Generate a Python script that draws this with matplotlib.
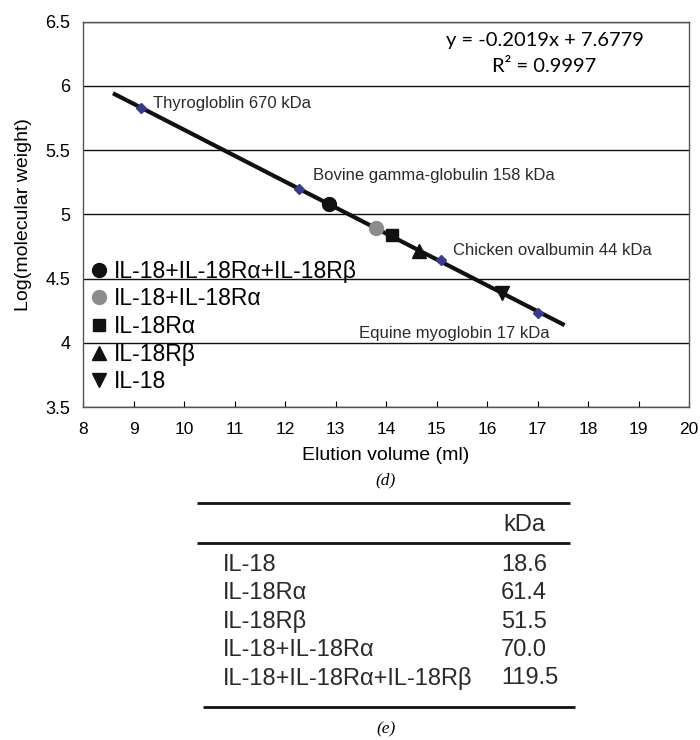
import numpy as np
import matplotlib
matplotlib.use("Agg")
import matplotlib.pyplot as plt

plt.rcParams['font.family'] = ['Liberation Sans', 'DejaVu Sans']

# standards (blue diamonds)
std_x = [9.15, 12.27, 15.08, 17.0]
std_y = [5.826, 5.199, 4.643, 4.230]
std_labels = ["Thyrogloblin 670 kDa", "Bovine gamma-globulin 158 kDa",
              "Chicken ovalbumin 44 kDa", "Equine myoglobin 17 kDa"]
std_label_pos = [(9.39, 5.865), (12.55, 5.305), (15.33, 4.72), (13.47, 4.076)]

# samples
smp_names = ["IL-18+IL-18Rα+IL-18Rβ", "IL-18+IL-18Rα", "IL-18Rα", "IL-18Rβ", "IL-18"]
smp_x = [12.87, 13.80, 14.12, 14.65, 16.30]
smp_y = [5.077, 4.890, 4.840, 4.715, 4.385]
smp_marker = ["o", "o", "s", "^", "v"]
smp_color = ["#111111", "#8c8c8c", "#111111", "#111111", "#111111"]

# linear fit
slope, intercept = -0.2019, 7.6779
fit_range = [8.63, 17.5]

# table (e)
tab_names = ["IL-18", "IL-18Rα", "IL-18Rβ", "IL-18+IL-18Rα", "IL-18+IL-18Rα+IL-18Rβ"]
tab_kda = ["18.6", "61.4", "51.5", "70.0", "119.5"]

W, H = 700, 740
fig = plt.figure(figsize=(7, 7.4), dpi=100)
ax = fig.add_axes([83 / W, 1 - 407 / H, 606 / W, 385.3 / H])

ax.set_xlim(8, 20)
ax.set_ylim(3.5, 6.5)
ax.set_xticks(range(8, 21))
ax.set_yticks([3.5, 4, 4.5, 5, 5.5, 6, 6.5])
ax.set_yticklabels(["3.5", "4", "4.5", "5", "5.5", "6", "6.5"])
ax.yaxis.grid(True, color="#111111", lw=1)
ax.set_axisbelow(True)
ax.tick_params(axis="x", direction="in", length=4, labelsize=12.5, pad=11)
ax.tick_params(axis="y", length=0, labelsize=13, pad=9)
for s in ax.spines.values():
    s.set_color("#555555")
    s.set_linewidth(1)

fx = np.array(fit_range)
ax.plot(fx, slope * fx + intercept, color="#111111", lw=3, zorder=3)

ax.plot(std_x, std_y, "D", color="#3a3a8a", ms=5, zorder=4, lw=0)
for lab, (tx, ty) in zip(std_labels, std_label_pos):
    ax.text(tx, ty, lab, fontsize=12, color="#2a2a2a", va="center", ha="left")

handles = []
for n, x, y, m, c in zip(smp_names, smp_x, smp_y, smp_marker, smp_color):
    ms = 9 if m == "s" else 10
    h, = ax.plot([x], [y], m, color=c, ms=ms, lw=0, zorder=5, label=n)
    handles.append(h)

ax.legend(handles=handles, loc="upper left", bbox_to_anchor=(0.012, 0.382),
          frameon=False, fontsize=16.5, handlelength=0.8, handletextpad=0.25,
          labelspacing=0.2, borderaxespad=0, borderpad=0)

ax.text(17.14, 6.355, "y = -0.2019x + 7.6779", family=["Lato", "DejaVu Sans"],
        fontsize=14.5, ha="center", va="center")
ax.text(17.14, 6.15, "R² = 0.9997", family=["Lato", "DejaVu Sans"],
        fontsize=14.5, ha="center", va="center")

ax.set_xlabel("Elution volume (ml)", fontsize=14, labelpad=7)
ax.set_ylabel("Log(molecular weight)", fontsize=14, labelpad=10)

# panel (d) label and table (e)
tab = fig.add_axes([0, 0, 1, 1])
tab.set_xlim(0, W)
tab.set_ylim(H, 0)
tab.axis("off")
tab.text(386, 480, "(d)", family="Liberation Serif", style="italic", fontsize=12.5,
         ha="center", va="center")
tab.hlines([503, 543], 197, 570, color="#111111", lw=2)
tab.hlines([707], 203, 575, color="#111111", lw=2)
tab.text(503, 525, "kDa", fontsize=17, ha="left", va="center", color="#2a2a2a")
for i, (n, v) in enumerate(zip(tab_names, tab_kda)):
    yy = 565 + i * 28.3
    tab.text(223, yy, n, fontsize=17, ha="left", va="center", color="#2a2a2a")
    tab.text(501, yy, v, fontsize=17, ha="left", va="center", color="#2a2a2a")
tab.text(386, 729, "(e)", family="Liberation Serif", style="italic", fontsize=12.5,
         ha="center", va="center")

fig.savefig("out.png", dpi=100)
